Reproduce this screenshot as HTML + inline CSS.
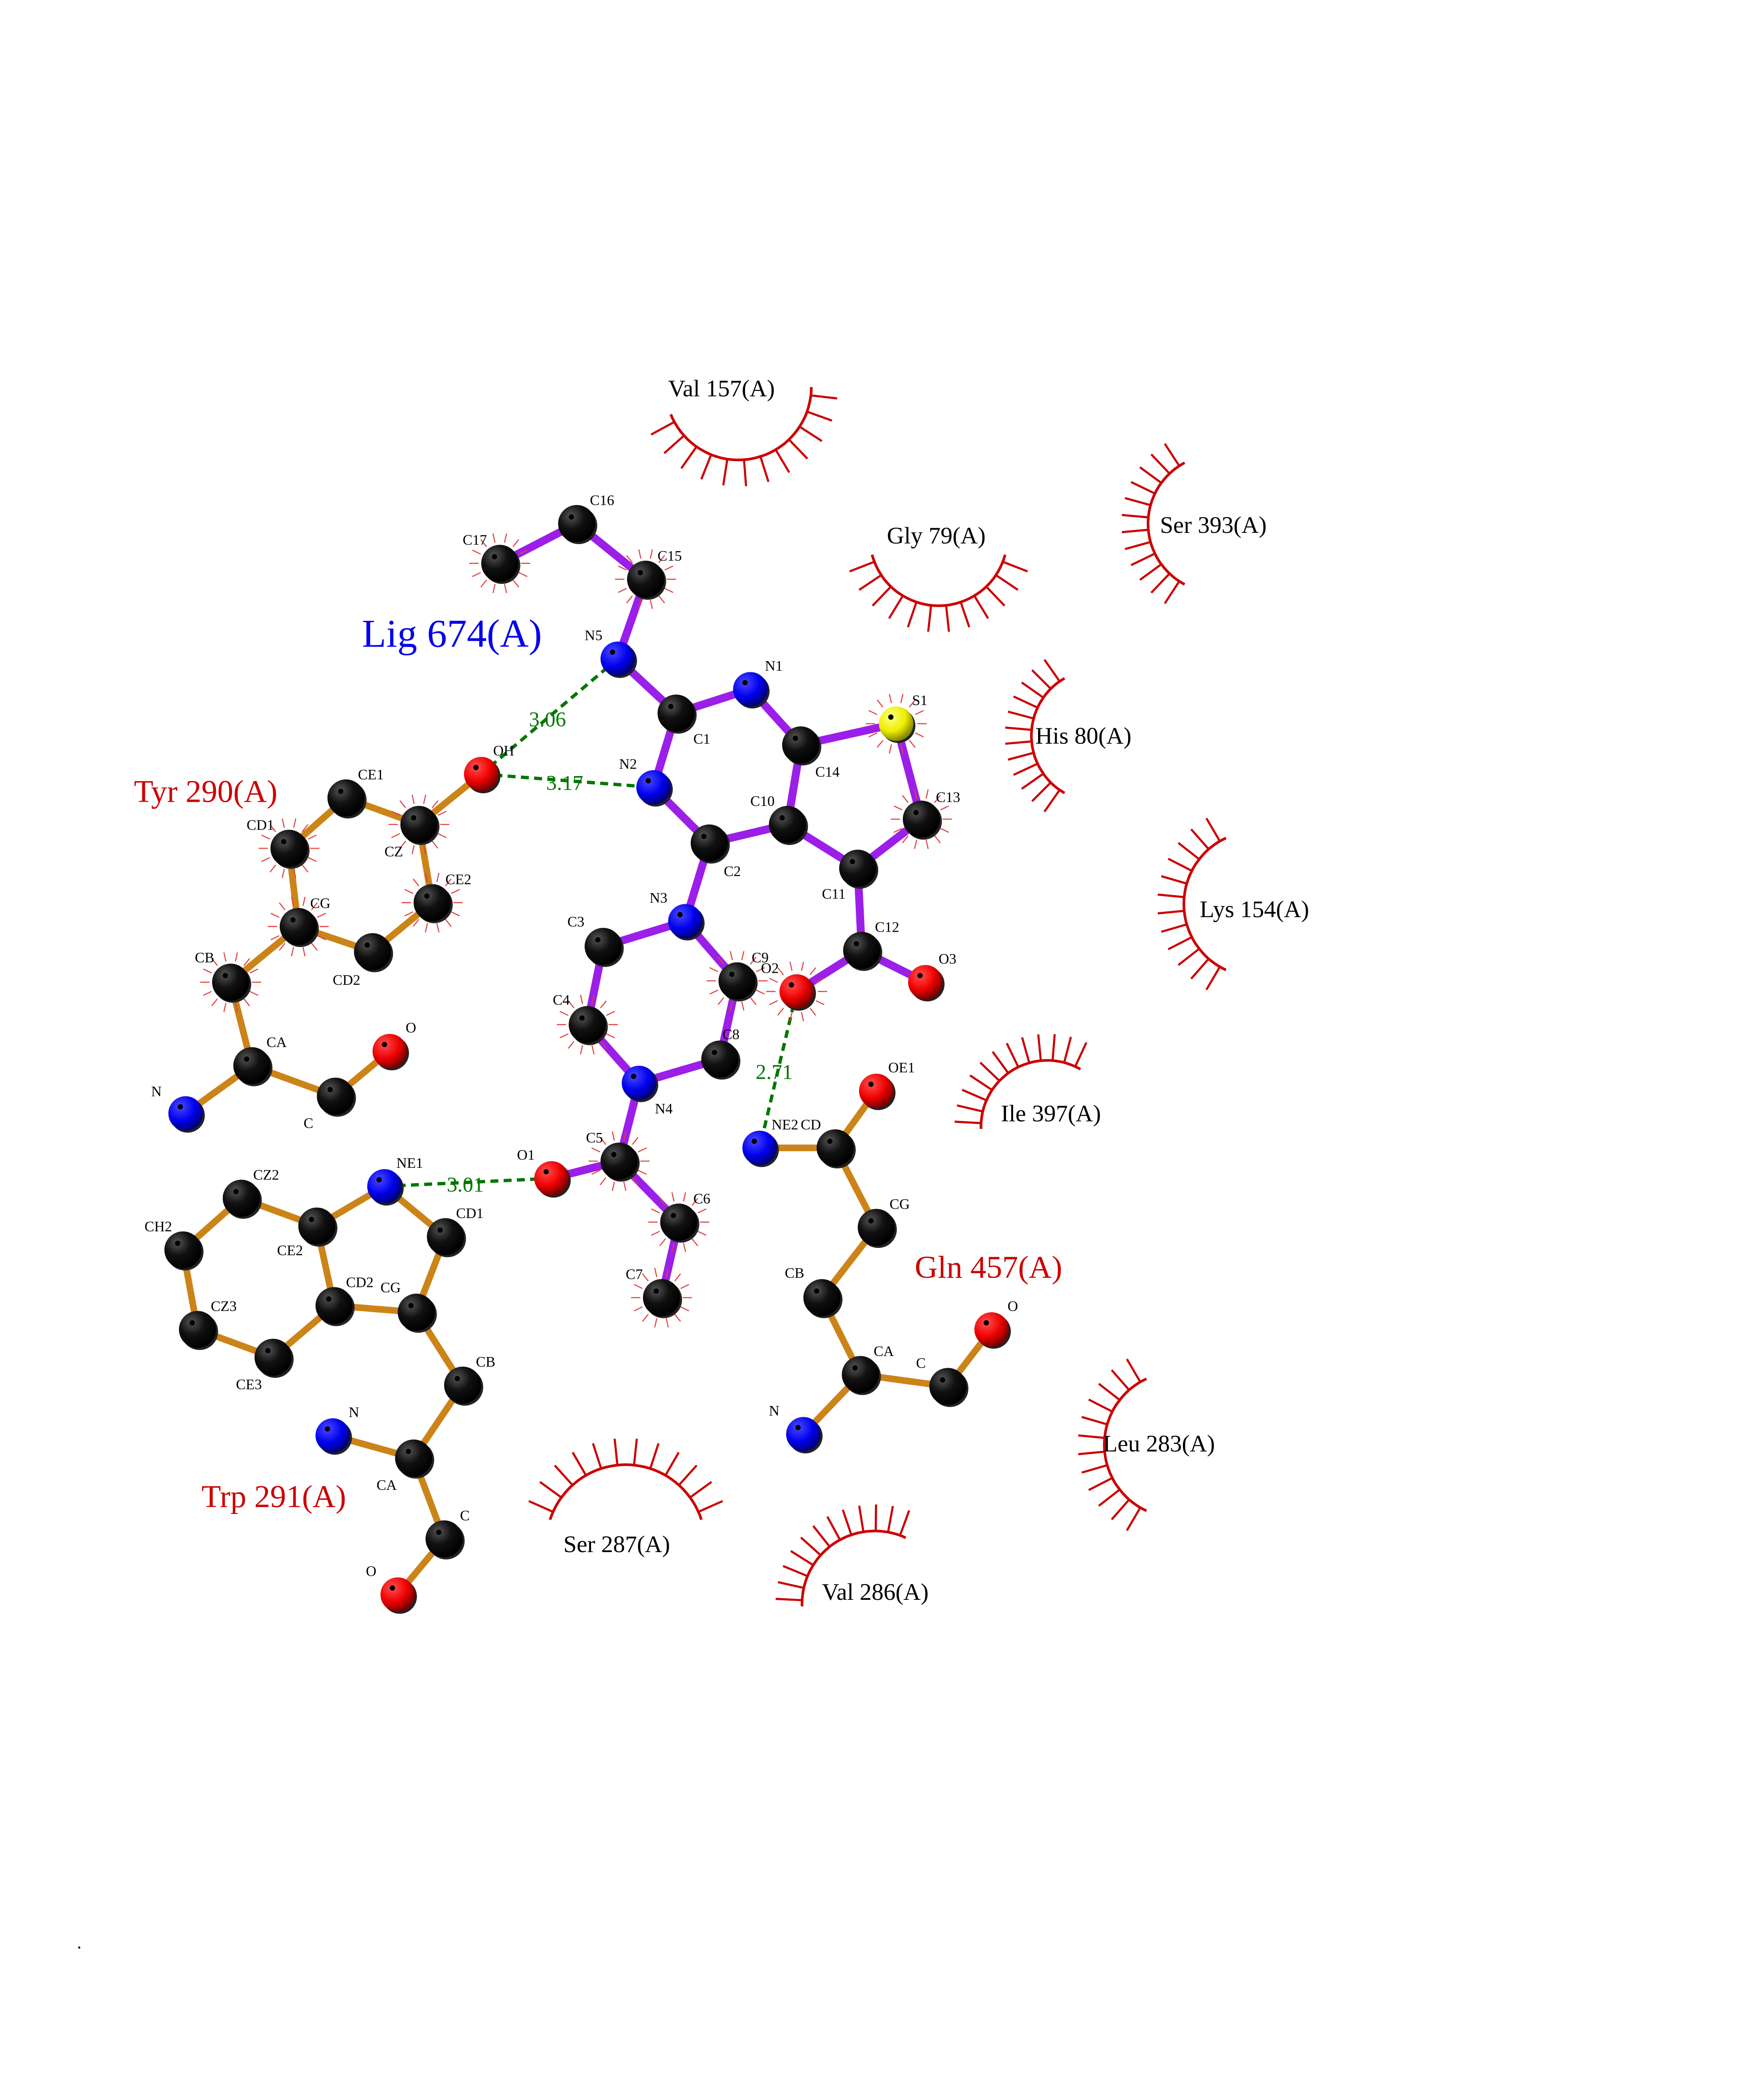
<!DOCTYPE html>
<html><head><meta charset="utf-8"><style>
html,body{margin:0;padding:0;background:#fff;width:4250px;height:5500px;overflow:hidden}
svg{display:block;position:absolute;left:0;top:0}
text{font-family:"Liberation Serif",serif}
</style></head><body>
<svg id="s" width="4250" height="5500" viewBox="0 0 1330 1722" preserveAspectRatio="xMinYMin meet" xmlns="http://www.w3.org/2000/svg">
<defs>
<radialGradient id="gk" cx="35%" cy="30%" r="70%"><stop offset="0" stop-color="#555"/><stop offset="0.5" stop-color="#111"/><stop offset="1" stop-color="#000"/></radialGradient>
<radialGradient id="gb" cx="35%" cy="30%" r="70%"><stop offset="0" stop-color="#4a4aff"/><stop offset="0.6" stop-color="#0000ee"/><stop offset="1" stop-color="#00007a"/></radialGradient>
<radialGradient id="gr" cx="35%" cy="30%" r="70%"><stop offset="0" stop-color="#ff5050"/><stop offset="0.6" stop-color="#ee0000"/><stop offset="1" stop-color="#7a0000"/></radialGradient>
<radialGradient id="gy" cx="35%" cy="30%" r="70%"><stop offset="0" stop-color="#ffff80"/><stop offset="0.6" stop-color="#eeee00"/><stop offset="1" stop-color="#888800"/></radialGradient>
</defs>
<g id="arcs"></g><g id="bonds"></g><g id="atoms"></g>
<g font-size="11" fill="#000">
<text x="349" y="411">C17</text><text x="445" y="381">C16</text><text x="496" y="423">C15</text>
<text x="441" y="483">N5</text><text x="577" y="506">N1</text><text x="523" y="561">C1</text>
<text x="467" y="580">N2</text><text x="688" y="532">S1</text><text x="615" y="586">C14</text>
<text x="566" y="608">C10</text><text x="706" y="605">C13</text><text x="620" y="678">C11</text>
<text x="546" y="661">C2</text><text x="660" y="703">C12</text><text x="708" y="727">O3</text>
<text x="574" y="734">O2</text><text x="490" y="681">N3</text><text x="428" y="699">C3</text>
<text x="567" y="726">C9</text><text x="417" y="758">C4</text><text x="545" y="784">C8</text>
<text x="494" y="840">N4</text><text x="442" y="862">C5</text><text x="390" y="875">O1</text>
<text x="523" y="908">C6</text><text x="472" y="965">C7</text>
<text x="372" y="570">OH</text><text x="270" y="588">CE1</text><text x="186" y="626">CD1</text>
<text x="290" y="646">CZ</text><text x="336" y="667">CE2</text><text x="234" y="685">CG</text>
<text x="251" y="743">CD2</text><text x="147" y="726">CB</text><text x="201" y="790">CA</text>
<text x="114" y="827">N</text><text x="229" y="851">C</text><text x="306" y="779">O</text>
<text x="299" y="881">NE1</text><text x="344" y="919">CD1</text><text x="191" y="890">CZ2</text>
<text x="109" y="929">CH2</text><text x="209" y="947">CE2</text><text x="261" y="971">CD2</text>
<text x="287" y="975">CG</text><text x="159" y="989">CZ3</text><text x="178" y="1048">CE3</text>
<text x="359" y="1031">CB</text><text x="284" y="1124">CA</text><text x="263" y="1069">N</text>
<text x="347" y="1147">C</text><text x="276" y="1189">O</text>
<text x="582" y="852">NE2</text><text x="604" y="852">CD</text><text x="670" y="809">OE1</text>
<text x="671" y="912">CG</text><text x="592" y="964">CB</text><text x="659" y="1023">CA</text>
<text x="580" y="1068">N</text><text x="691" y="1032">C</text><text x="760" y="989">O</text>
</g>
<g font-size="16" fill="#007700">
<text x="399" y="548">3.06</text><text x="412" y="596">3.17</text>
<text x="570" y="814">2.71</text><text x="337" y="899">3.01</text>
</g>
<g font-size="18" fill="#000">
<text x="504" y="299">Val 157(A)</text><text x="669" y="410">Gly 79(A)</text>
<text x="875" y="402">Ser 393(A)</text><text x="781" y="561">His 80(A)</text>
<text x="905" y="692">Lys 154(A)</text><text x="755" y="846">Ile 397(A)</text>
<text x="832" y="1095">Leu 283(A)</text><text x="425" y="1171">Ser 287(A)</text>
<text x="620" y="1207">Val 286(A)</text>
</g>
<g font-size="24" fill="#cc0000">
<text x="101" y="605">Tyr 290(A)</text><text x="690" y="964">Gln 457(A)</text>
<text x="152" y="1137">Trp 291(A)</text>
</g>
<text x="273" y="488" font-size="30" fill="#0000ee">Lig 674(A)</text>
<text x="58" y="1470" font-size="14">.</text>
</svg>
<script>
var NS="http://www.w3.org/2000/svg";
function el(p,t,a){var e=document.createElementNS(NS,t);for(var k in a)e.setAttribute(k,a[k]);document.getElementById(p).appendChild(e);return e;}
var A={
C17:[377,425,'k'],C16:[435,395,'k'],C15:[487,437,'k'],N5:[466,497,'b'],C1:[510,538,'k'],N1:[566,520,'b'],N2:[493,594,'b'],C2:[535,636,'k'],C14:[604,562,'k'],S1:[676,546,'y'],C10:[594,622,'k'],C13:[695,618,'k'],C11:[647,655,'k'],C12:[650,717,'k'],O3:[698,741,'r'],O2:[601,748,'r'],N3:[517,695,'b'],C3:[455,714,'k'],C9:[556,740,'k'],C4:[443,773,'k'],C8:[543,799,'k'],N4:[482,817,'b'],C5:[467,876,'k'],O1:[416,889,'r'],C6:[512,922,'k'],C7:[499,979,'k'],
tOH:[363,584,'r'],tCZ:[316,622,'k'],tCE1:[261,602,'k'],tCD1:[218,640,'k'],tCE2:[326,681,'k'],tCD2:[281,718,'k'],tCG:[225,699,'k'],tCB:[174,741,'k'],tCA:[190,804,'k'],tN:[140,840,'b'],tC:[253,827,'k'],tO:[294,793,'r'],
wNE1:[290,895,'b'],wCD1:[336,933,'k'],wCG:[314,990,'k'],wCD2:[252,985,'k'],wCE2:[239,925,'k'],wCZ2:[182,904,'k'],wCH2:[138,943,'k'],wCZ3:[149,1003,'k'],wCE3:[206,1024,'k'],wCB:[349,1045,'k'],wCA:[312,1100,'k'],wN:[251,1083,'b'],wC:[335,1161,'k'],wO:[300,1203,'r'],
qNE2:[573,866,'b'],qCD:[630,866,'k'],qOE1:[661,823,'r'],qCG:[661,926,'k'],qCB:[620,979,'k'],qCA:[649,1037,'k'],qN:[606,1082,'b'],qC:[715,1046,'k'],qO:[748,1003,'r']};
var L=[['C17','C16'],['C16','C15'],['C15','N5'],['N5','C1'],['C1','N1'],['C1','N2'],['N1','C14'],['C14','S1'],['S1','C13'],['C13','C11'],['C14','C10'],['C10','C11'],['C10','C2'],['N2','C2'],['C2','N3'],['C11','C12'],['C12','O3'],['C12','O2'],['N3','C3'],['N3','C9'],['C3','C4'],['C9','C8'],['C4','N4'],['C8','N4'],['N4','C5'],['C5','O1'],['C5','C6'],['C6','C7']];
var P=[['tOH','tCZ'],['tCZ','tCE1'],['tCE1','tCD1'],['tCD1','tCG'],['tCZ','tCE2'],['tCE2','tCD2'],['tCD2','tCG'],['tCG','tCB'],['tCB','tCA'],['tCA','tN'],['tCA','tC'],['tC','tO'],
['wNE1','wCD1'],['wCD1','wCG'],['wCG','wCD2'],['wCD2','wCE2'],['wCE2','wNE1'],['wCE2','wCZ2'],['wCZ2','wCH2'],['wCH2','wCZ3'],['wCZ3','wCE3'],['wCE3','wCD2'],['wCG','wCB'],['wCB','wCA'],['wCA','wN'],['wCA','wC'],['wC','wO'],
['qNE2','qCD'],['qCD','qOE1'],['qCD','qCG'],['qCG','qCB'],['qCB','qCA'],['qCA','qN'],['qCA','qC'],['qC','qO']];
L.forEach(function(b){var a=A[b[0]],c=A[b[1]];el('bonds','line',{x1:a[0],y1:a[1],x2:c[0],y2:c[1],stroke:'#9b1fe8','stroke-width':6});});
P.forEach(function(b){var a=A[b[0]],c=A[b[1]];el('bonds','line',{x1:a[0],y1:a[1],x2:c[0],y2:c[1],stroke:'#cc8418','stroke-width':5});});
[['N5','tOH'],['tOH','N2'],['O2','qNE2'],['wNE1','O1']].forEach(function(b){var a=A[b[0]],c=A[b[1]];el('bonds','line',{x1:a[0],y1:a[1],x2:c[0],y2:c[1],stroke:'#007700','stroke-width':2.5,'stroke-dasharray':'6,4'});});
['C17','C15','S1','C13','C9','C4','C5','C6','C7','O2','tCZ','tCE2','tCD1','tCB','tCG'].forEach(function(n){var a=A[n];for(var i=0;i<14;i++){var t=i/14*2*Math.PI;el('bonds','line',{x1:a[0]+16*Math.cos(t),y1:a[1]+16*Math.sin(t),x2:a[0]+23*Math.cos(t),y2:a[1]+23*Math.sin(t),stroke:'#e04040','stroke-width':0.8});}});
var G={k:'gk',b:'gb',r:'gr',y:'gy'};
for(var n in A){var a=A[n];var r=a[2]=='k'?14:13;el('atoms','circle',{cx:a[0]+1.5,cy:a[1]+1.5,r:r,fill:'#222'});el('atoms','circle',{cx:a[0],cy:a[1],r:r,fill:'url(#'+G[a[2]]+')'});el('atoms','circle',{cx:a[0]-4,cy:a[1]-5,r:2,fill:'#000'});}
var H=[[557,292,55,0,158],[708,405,52,15,165],[918,395,52,118,242],[828,555,50,120,240],[948,682,55,115,245],[790,850,50,178,300],[888,1090,55,115,245],[472,1165,60,198,342],[660,1210,55,178,295]];
H.forEach(function(h){var cx=h[0],cy=h[1],r=h[2],s=h[3]*Math.PI/180,e=h[4]*Math.PI/180;var d='';for(var i=0;i<=40;i++){var t=s+(e-s)*i/40;d+=(i?'L':'M')+(cx+r*Math.cos(t)).toFixed(1)+','+(cy+r*Math.sin(t)).toFixed(1);}
el('arcs','path',{d:d,fill:'none',stroke:'#cc0000','stroke-width':2});
var n=12;for(var i=0;i<n;i++){var t=s+(e-s)*(i+0.5)/n;el('arcs','line',{x1:cx+r*Math.cos(t),y1:cy+r*Math.sin(t),x2:cx+(r+20)*Math.cos(t),y2:cy+(r+20)*Math.sin(t),stroke:'#cc0000','stroke-width':1.6});}});
</script>
</body></html>
